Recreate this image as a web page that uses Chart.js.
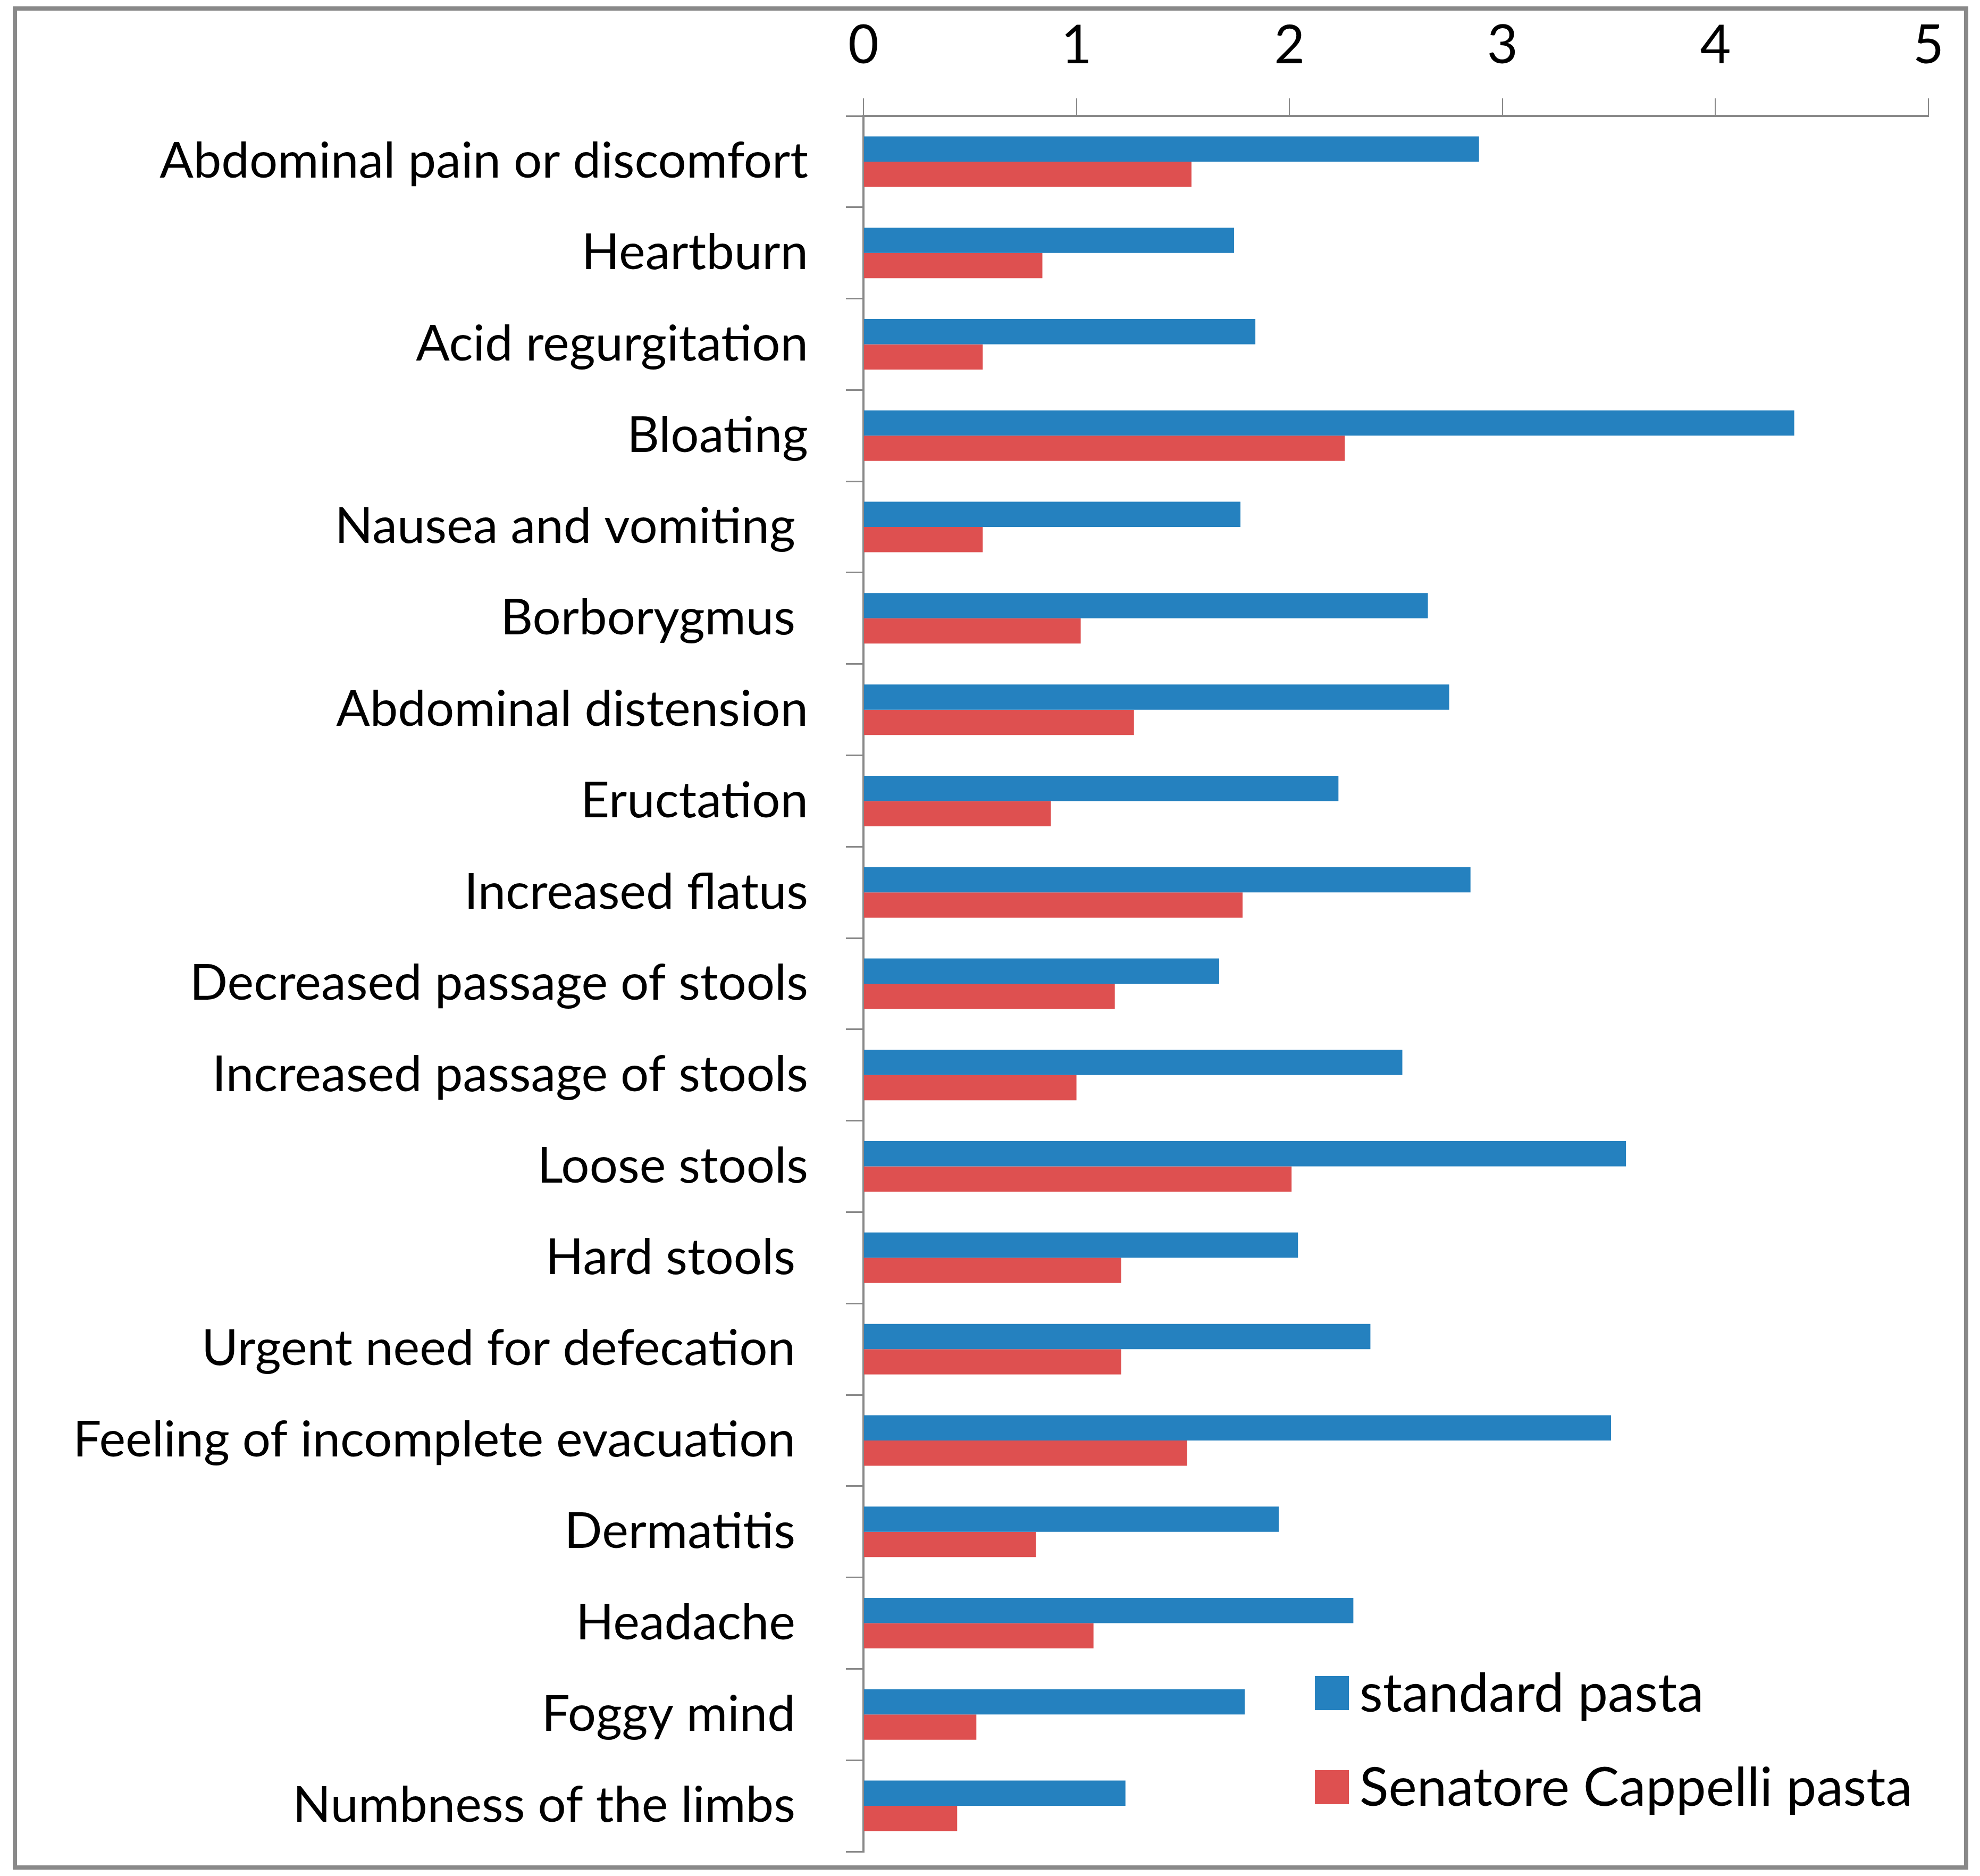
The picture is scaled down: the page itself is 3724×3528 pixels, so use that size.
<!DOCTYPE html>
<html>
<head>
<meta charset="utf-8">
<script src="https://cdn.jsdelivr.net/npm/chart.js@4.4.1/dist/chart.umd.min.js"></script>
<style>
  html, body { margin: 0; padding: 0; background: #ffffff; }
  #wrap { position: relative; width: 3724px; height: 3528px; }
  #frame { position: absolute; left: 24px; top: 12px; width: 3662px; height: 3488px; border: 8px solid #898989; pointer-events: none; }
  canvas { position: absolute; left: 0; top: 0; }
</style>
</head>
<body>
<div id="wrap">
  <canvas id="c" width="3724" height="3528"></canvas>
  <div id="frame"></div>
</div>
<script>
const categories = [
  "Abdominal pain or discomfort",
  "Heartburn",
  "Acid regurgitation",
  "Bloating",
  "Nausea and vomiting ",
  "Borborygmus ",
  "Abdominal distension",
  "Eructation",
  "Increased flatus",
  "Decreased passage of stools",
  "Increased passage of stools",
  "Loose stools",
  "Hard stools ",
  "Urgent need for defecation ",
  "Feeling of incomplete evacuation ",
  "Dermatitis ",
  "Headache ",
  "Foggy mind ",
  "Numbness of the limbs "
];
const seriesNames = ["standard pasta", "Senatore Cappelli pasta"];
const standardPasta = [2.89, 1.74, 1.84, 4.37, 1.77, 2.65, 2.75, 2.23, 2.85, 1.67, 2.53, 3.58, 2.04, 2.38, 3.51, 1.95, 2.30, 1.79, 1.23];
const cappelliPasta = [1.54, 0.84, 0.56, 2.26, 0.56, 1.02, 1.27, 0.88, 1.78, 1.18, 1.00, 2.01, 1.21, 1.21, 1.52, 0.81, 1.08, 0.53, 0.44];
const xTicks = [0, 1, 2, 3, 4, 5];

const FONT = "Lato, 'Open Sans', sans-serif";
const GRAY = "#898989";

const legendPlugin = {
  id: "insideLegend",
  afterDraw(chart) {
    const ctx = chart.ctx;
    const x0 = 2473, box = 64, gap = 20, rows = [3184, 3361];
    ctx.save();
    ctx.font = "101px " + FONT;
    ctx.textBaseline = "middle";
    ctx.textAlign = "left";
    chart.data.datasets.forEach((ds, i) => {
      const cy = rows[i];
      ctx.fillStyle = ds.backgroundColor;
      ctx.fillRect(x0, cy - box / 2, box, box);
      ctx.fillStyle = "#000000";
      ctx.fillText(ds.label, x0 + box + gap, cy + 2);
    });
    ctx.restore();
  }
};

new Chart(document.getElementById("c"), {
  type: "bar",
  data: {
    labels: categories,
    datasets: [
      { label: seriesNames[0], data: standardPasta, backgroundColor: "#2581BF", borderWidth: 0 },
      { label: seriesNames[1], data: cappelliPasta, backgroundColor: "#DE5050", borderWidth: 0 }
    ]
  },
  options: {
    indexAxis: "y",
    responsive: false,
    animation: false,
    devicePixelRatio: 1,
    layout: { padding: { left: 0, top: 0, right: 97, bottom: 46 } },
    datasets: { bar: { barPercentage: 1.0, categoryPercentage: 0.553 } },
    plugins: { legend: { display: false }, tooltip: { enabled: false } },
    scales: {
      x: {
        position: "top",
        min: 0, max: 5,
        afterBuildTicks(scale) { scale.ticks = xTicks.map(v => ({ value: v })); },
        afterFit(scale) { scale.height = 218; scale.paddingLeft = 0; scale.paddingRight = 0; },
        ticks: { font: { family: FONT, size: 100 }, color: "#000000", padding: 38 },
        grid: { drawOnChartArea: false, drawTicks: true, tickLength: 33, color: GRAY, lineWidth: 2 },
        border: { display: true, color: GRAY, width: 4 }
      },
      y: {
        afterFit(scale) { scale.width = 1624; scale.paddingTop = 0; scale.paddingBottom = 0; },
        ticks: { font: { family: FONT, size: 94 }, color: "#000000", padding: 71, autoSkip: false },
        grid: { offset: true, drawOnChartArea: false, drawTicks: true, tickLength: 33, color: GRAY, lineWidth: 3 },
        border: { display: true, color: GRAY, width: 4 }
      }
    }
  },
  plugins: [legendPlugin]
});
</script>
</body>
</html>
